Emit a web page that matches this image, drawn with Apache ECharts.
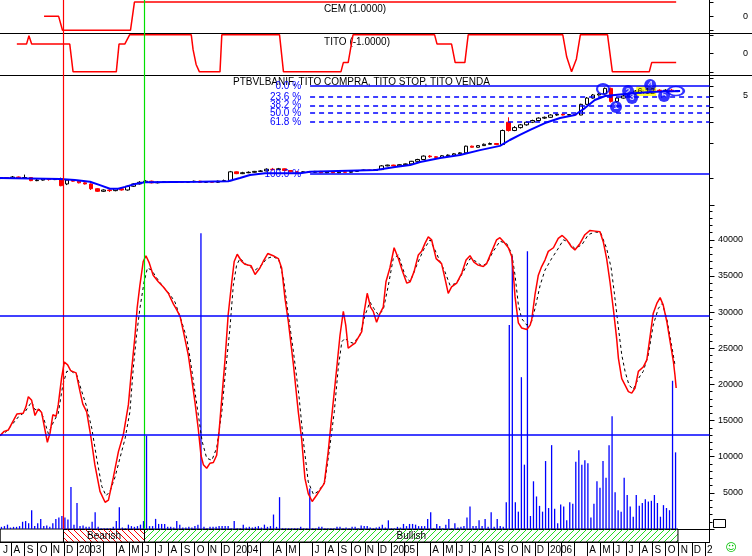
<!DOCTYPE html>
<html><head><meta charset="utf-8">
<script src="https://cdn.jsdelivr.net/npm/echarts@6/dist/echarts.min.js"></script>
<style>html,body{margin:0;padding:0;background:#fff}#c{width:752px;height:556px}</style>
</head><body><div id="c"></div>
<script>
// ---------- DATA (x = week index from 1 Jul 2002) ----------
const monthLabels = ['J','A','S','O','N','D','2003','','','A','M','J','J','A','S','O','N','D','2004','','','A','M','','J','A','S','O','N','D','2005','','','A','M','J','J','A','S','O','N','D','2006','','','A','M','J','J','A','S','O','N','D','2'];

const signalWeeks = [21.83, 48.63];
const signalColors = ['#ff0000', '#00e000'];

const cemWeek = [15.4, 20.2, 21.5, 44.0, 45.3, 224.5];
const cemVal  = [0, 0, -1, -1, 1, 1];

const titoWeek = [6.4,9.6,10.4,11.3,23.9,25.0,39.3,40.2,42.1,43.7,64.1,64.7,65.7,66.8,73.6,74.2,93.3,94.6,113.6,114.4,116.0,117.6,144.6,145.4,150.2,151.4,154.6,155.7,187.0,188.3,189.9,191.5,192.8,201.8,203.4,215.6,216.4,224.5];
const titoVal  = [0.5,0.5,0.95,0.5,0.5,-1,-1,0.5,0.5,1,1,0.2,-0.6,-1,-1,1,1,-1,-1,-0.5,-0.5,1,1,0.5,0.5,-0.5,-0.5,1,1,-0.2,-1,-0.3,1,1,-1,-1,-0.5,-0.5];

// bi-weekly candles [open, close, low, high]
const candleStartWeek = 1, candleStepWeeks = 2;
const candles = [
[1.00,1.02,0.99,1.03],[1.02,1.01,1.00,1.03],[1.01,1.03,1.00,1.05],[1.03,1.01,1.00,1.04],[1.01,1.02,1.00,1.08],
[1.02,0.96,0.95,1.03],[0.96,0.97,0.95,0.99],[0.97,0.99,0.96,1.00],[0.99,0.98,0.96,1.00],[0.98,1.00,0.97,1.01],
[1.00,0.87,0.86,1.02],[0.90,0.97,0.88,0.98],[0.97,0.95,0.94,0.98],[0.95,0.92,0.91,0.96],[0.92,0.90,0.89,0.93],
[0.90,0.82,0.80,0.91],[0.82,0.78,0.77,0.83],[0.78,0.80,0.77,0.81],[0.80,0.79,0.77,0.81],[0.79,0.82,0.78,0.83],
[0.82,0.80,0.79,0.83],[0.80,0.86,0.79,0.87],[0.86,0.90,0.85,0.91],[0.90,0.93,0.89,0.95],[0.93,0.95,0.92,0.97],
[0.95,0.92,0.91,0.96],[0.92,0.93,0.91,0.95],[0.93,0.94,0.92,0.95],[0.94,0.93,0.92,0.95],[0.93,0.94,0.92,0.95],
[0.94,0.93,0.92,0.95],[0.93,0.94,0.92,0.95],[0.94,0.95,0.93,0.96],[0.95,0.93,0.92,0.96],[0.93,0.94,0.92,0.95],
[0.94,0.93,0.92,0.95],[0.93,0.95,0.92,0.96],[0.95,0.96,0.94,0.98],[0.96,1.14,0.95,1.16],[1.14,1.10,1.09,1.15],
[1.10,1.12,1.09,1.14],[1.12,1.13,1.11,1.15],[1.13,1.15,1.12,1.16],[1.15,1.16,1.14,1.18],[1.16,1.20,1.15,1.22],
[1.20,1.19,1.17,1.23],[1.19,1.21,1.18,1.23],[1.21,1.17,1.16,1.22],[1.17,1.14,1.13,1.18],[1.14,1.13,1.12,1.15],
[1.13,1.14,1.12,1.15],[1.14,1.13,1.12,1.15],[1.13,1.15,1.12,1.16],[1.15,1.12,1.11,1.16],[1.12,1.14,1.11,1.15],
[1.14,1.12,1.11,1.15],[1.12,1.14,1.11,1.15],[1.14,1.13,1.12,1.15],[1.13,1.15,1.12,1.17],[1.15,1.17,1.14,1.18],
[1.17,1.18,1.16,1.19],[1.18,1.17,1.16,1.19],[1.17,1.19,1.16,1.20],[1.19,1.28,1.18,1.30],[1.28,1.30,1.27,1.31],
[1.30,1.28,1.27,1.31],[1.28,1.31,1.27,1.32],[1.31,1.33,1.30,1.34],[1.33,1.40,1.32,1.41],[1.40,1.45,1.39,1.47],
[1.45,1.55,1.44,1.57],[1.55,1.53,1.50,1.58],[1.53,1.51,1.49,1.55],[1.51,1.56,1.50,1.58],[1.56,1.58,1.55,1.60],
[1.58,1.62,1.57,1.64],[1.62,1.65,1.61,1.67],[1.65,1.88,1.64,1.90],[1.88,1.84,1.83,1.90],[1.84,1.90,1.83,1.92],
[1.90,1.95,1.89,1.98],[1.95,1.98,1.94,2.02],[1.98,1.94,1.92,2.00],[1.94,2.55,1.93,2.60],[3.00,2.55,2.50,3.30],
[2.55,2.70,2.52,2.78],[2.70,2.85,2.65,2.90],[2.85,3.00,2.80,3.05],[3.00,3.10,2.95,3.15],[3.10,3.25,3.05,3.30],
[3.25,3.30,3.20,3.35],[3.30,3.45,3.28,3.50],[3.45,3.50,3.40,3.55],[3.50,3.45,3.42,3.55],[3.45,3.48,3.42,3.52],
[3.48,3.45,3.40,3.50],[3.45,4.25,3.44,4.30],[4.25,4.80,4.20,4.90],[4.80,5.10,4.75,5.20],[5.10,5.20,5.05,5.30],
[5.20,5.80,5.15,5.90],[5.80,4.50,4.40,5.90],[4.50,4.80,4.40,4.90],[4.80,5.00,4.75,5.10],[5.00,5.20,4.95,5.30],
[5.20,5.50,5.15,5.60],[5.50,5.60,5.40,5.70],[5.60,5.70,5.50,5.80],[5.70,5.60,5.50,5.75],[5.60,5.55,5.45,5.70],
[5.55,5.60,5.45,5.70],[5.60,5.45,5.40,5.75],[5.45,5.55,5.40,5.60]
];

const stopWeek = [0.8,20.7,25.6,30.6,33.9,37.2,39.9,42.2,45.5,48.8,67.0,76.3,80.2,83.5,88.5,100.1,103.4,125.2,131.5,136.5,139.8,146.4,153.0,159.6,166.2,169.5,172.8,176.2,181.1,186.1,191.0,194.3,197.6,201.0,204.3,209.2,215.9,225.8];
const stopVal  = [1.01,0.99,0.97,0.94,0.88,0.82,0.82,0.85,0.90,0.93,0.94,0.95,1.01,1.07,1.11,1.11,1.14,1.18,1.25,1.30,1.38,1.49,1.58,1.74,1.89,2.12,2.34,2.58,2.95,3.26,3.45,3.95,4.62,5.0,5.1,5.25,5.4,5.5];

const fibLabels = ['0.0 %','23.6 %','38.2 %','50.0 %','61.8 %','100.0 %'];
const fibPrices = [6.08, 4.90, 4.17, 3.58, 3.00, 1.09];
const fibStartWeek = 103.4;

const sigWeek  = [200.3, 204.6, 208.6, 209.9, 215.9, 220.5, 224.4];
const sigPrice = [5.73, 4.04, 5.51, 4.81, 6.2, 5.0, 5.51];
const sigLabel = ['', '1', '2', '3', '4', '5', ''];
const tagWeek = 214.6, tagPrice = 5.51, tagText = '6.12';

// weekly volume, bar i drawn at week i + 0.3
const volOffset = 0.3;
const volume = [
300,300,400,600,200,300,300,400,1000,1100,800,2600,400,800,1400,400,500,300,800,1400,
1600,1800,1600,1300,5800,600,3600,400,500,300,300,1000,2300,300,100,100,100,100,300,1100,
3000,200,100,600,400,300,400,600,1100,12900,400,400,1400,700,700,700,300,300,200,1100,
600,200,200,300,200,400,600,40900,300,100,300,300,300,400,400,400,400,100,1100,100,
100,600,200,300,200,300,400,200,600,300,400,2000,300,4400,100,100,100,100,100,100,
300,100,100,5600,100,100,300,300,100,100,100,100,300,300,100,200,100,300,300,100,
500,400,400,200,100,200,300,600,200,1200,100,100,300,200,700,400,700,700,600,400,
400,400,1400,2300,100,700,400,100,600,1400,100,800,200,300,400,1600,3100,400,400,1200,
400,1400,300,2300,300,1400,400,300,3700,28200,37700,3700,2400,21000,8900,38400,1800,6600,4500,3200,
2400,9400,2900,11600,2800,800,3400,3100,1200,3700,3500,9300,10900,8900,9500,9100,1600,3500,6600,5700,
9400,7100,11600,15600,5100,2600,2400,7100,4700,3100,1700,4700,3200,3600,4100,3800,3900,4700,3600,1700,
3300,2900,2600,20500,10600
];

const oscWeek = [0.8,2.2,3.6,6.4,8.5,9.4,10.2,11.3,12.4,13.5,14.6,15.7,16.5,17.4,18.3,19.4,20.1,21.2,22.1,23.2,
24.2,26.0,27.3,28.2,29.5,30.8,32.2,33.9,35.6,36.7,38.3,40.0,41.6,43.3,44.1,45.5,46.2,47.1,48.2,49.1,
50.2,51.5,53.2,54.8,56.5,58.2,59.3,60.4,61.5,63.1,64.2,65.3,66.4,67.3,68.1,69.2,70.3,71.4,72.5,73.3,
74.2,75.3,76.3,77.5,78.3,79.3,80.8,81.9,83.9,85.2,86.8,87.9,89.4,91.2,92.9,94.0,95.1,96.2,97.9,99.5,
100.6,101.7,102.8,104.1,105.6,106.7,108.1,109.4,110.5,112.2,113.3,114.4,115.2,116.0,117.2,118.3,118.8,120.5,121.2,122.3,
123.4,124.3,125.4,126.5,127.6,128.5,129.8,131.2,132.6,134.0,135.4,136.5,137.8,139.2,140.3,141.4,142.5,143.6,145.1,146.9,
148.0,149.1,150.2,151.9,153.6,155.0,156.3,157.6,159.0,160.7,161.8,163.5,165.1,166.2,167.5,169.0,170.1,170.6,171.2,172.3,
173.4,175.1,176.2,176.7,177.8,178.9,180.0,181.1,182.2,183.9,185.5,186.8,188.3,189.9,191.0,192.7,194.3,196.0,197.7,199.3,
200.4,201.5,202.6,203.7,204.8,205.4,206.5,207.6,208.7,209.8,210.9,212.0,213.6,214.8,215.8,216.9,218.1,219.2,220.2,221.4,
222.5,223.6,224.1,224.5];
const oscRed = [12900,13500,13700,15900,16000,16900,18300,17800,15700,16600,16100,13700,12000,13300,15800,15600,17200,20900,23100,22700,
21900,21600,19000,17300,16200,13000,8900,5200,3700,4000,7100,10700,13000,17200,20900,26800,30600,33700,37000,37800,
36800,35100,34200,33500,32600,31100,30300,29400,27300,24100,20900,17600,13900,10200,8900,8400,9100,9200,10200,13500,
18100,23600,29600,34200,37000,38000,37000,36600,36400,35200,36100,37000,38100,37800,37400,36100,31900,28700,22700,16200,
12500,7000,4900,3800,4700,5400,6300,10700,15300,22200,26800,30100,28200,25000,25400,25700,26100,27300,29800,32600,
30700,30100,28600,29800,30700,34200,36100,38900,37400,35600,34000,34200,35600,37900,38400,39500,40400,40000,37400,36700,
34700,32600,33500,34000,35400,37200,37800,36900,36500,36300,36700,38400,40000,40300,39700,38900,37700,35600,32100,28500,
27800,27600,28200,28900,32400,35100,36300,37200,38400,38900,40200,40600,40000,39000,38600,39500,40700,41300,41200,41100,
39700,37400,34200,30500,26400,23600,20800,19900,19000,18800,19500,21800,22400,23400,26400,29800,31200,32000,31000,28700,
25900,23100,21300,19500];

const blackWeek = [0.8,3.0,6.9,9.1,11.3,12.4,13.8,15.2,16.8,18.5,20.1,21.6,22.9,24.5,26.2,27.9,29.5,31.2,32.8,34.5,
35.9,37.2,38.9,40.5,42.2,43.8,44.9,46.0,47.1,48.5,49.6,51.0,52.7,54.8,57.1,58.7,60.9,62.6,63.7,65.3,
66.6,67.7,69.2,70.9,72.5,74.2,75.3,76.9,78.0,79.1,80.2,82.4,85.2,87.4,89.0,91.2,93.1,94.6,96.2,97.9,
99.7,101.2,102.8,104.5,106.1,108.3,110.0,111.4,112.7,113.9,115.0,116.1,117.7,119.9,121.6,123.2,124.5,126.0,127.6,129.3,
130.9,132.6,134.8,136.5,138.7,140.9,143.1,144.7,146.4,148.0,149.7,151.9,154.1,156.3,158.3,160.2,161.8,164.0,166.2,168.4,
170.1,171.2,172.3,173.4,175.1,176.7,177.8,179.5,181.1,183.3,185.5,187.2,188.8,191.0,193.3,195.4,197.7,199.6,201.5,203.0,
204.0,205.4,206.5,207.6,208.9,210.3,212.0,213.6,215.3,216.9,218.6,219.9,221.4,223.0,224.1];
const oscBlack = [12900,13500,15500,16200,17600,16500,16600,15400,13200,14800,16000,19900,21800,21800,21300,19000,16900,13900,9800,5900,
4600,5200,7200,9800,12500,16200,22200,26800,30500,34200,36100,35800,34700,33500,32400,31400,28700,26400,23600,19000,
15300,12100,9800,9500,11200,16200,21300,27800,33700,36500,37400,36600,35800,36500,37400,37700,37200,34700,29600,24500,
18500,12100,6500,4800,5200,6500,11600,16200,22200,25900,26400,25900,25700,26800,29600,31400,30500,29600,30300,33700,
37400,37900,35100,34200,36500,38600,40000,38600,37000,35600,33700,34000,35600,37400,37000,36400,36700,38400,39800,39500,
38100,35100,31000,29100,28200,28700,30500,33700,35800,37400,38800,40000,39700,38800,39300,40700,41100,40900,38800,36100,
32800,27800,24100,21800,19900,19300,20800,21800,24100,28200,30500,31200,29100,25400,22700];

const oscLevels = [29500, 13000];

const regimeStart = [0.9, 21.83, 48.63];
const regimeEnd   = [21.83, 48.63, 225.1];
const regimeName  = ['', 'Bearish', 'Bullish'];

// ---------- LAYOUT ----------
const FONT = "'Liberation Sans', Arial, sans-serif";
const W = 752, PLOT_RIGHT = 709.5;
const PX_PER_WEEK = 3.023, PX_PER_MONTH = PX_PER_WEEK * 52 / 12;
const X0 = 2.5;                       // week/month 0 sits 2.5px left of the canvas edge
const weekMin = X0 / PX_PER_WEEK;
const narrowMax = weekMin + PLOT_RIGHT / PX_PER_WEEK;
const wideMax = weekMin + W / PX_PER_WEEK;
const monthMin = X0 / PX_PER_MONTH;
const monthMax = monthMin + PLOT_RIGHT / PX_PER_MONTH;
const monthTicks = monthLabels.map((_, i) => i).filter(i => i > 0);
const monthLabelPos = [monthMin].concat(monthTicks);
const AX_OFF = -(W - PLOT_RIGHT);

function hatch(color, dir) {
  const s = 6, c = document.createElement('canvas'); c.width = s; c.height = s;
  const g = c.getContext('2d'); g.strokeStyle = color; g.lineWidth = 1;
  g.beginPath();
  for (let k = -1; k <= 1; k++) {
    if (dir > 0) { g.moveTo(k * s, s); g.lineTo(k * s + s, 0); }
    else { g.moveTo(k * s, 0); g.lineTo(k * s + s, s); }
  }
  g.stroke(); return c;
}
const regimeFill = ['#ffffff', {image: hatch('#ff0000', -1), repeat: 'repeat'}, {image: hatch('#22dd22', 1), repeat: 'repeat'}];

function xAx(gi, max, line) {
  return {type: 'value', gridIndex: gi, min: weekMin, max: max, show: true,
    axisLine: {show: line, onZero: false, lineStyle: {color: '#000', width: 1}},
    axisTick: {show: false}, axisLabel: {show: false}, splitLine: {show: false}};
}
function yAx(gi, o) {
  return Object.assign({type: 'value', gridIndex: gi, position: 'right', offset: 0,
    axisLine: {show: true, onZero: false, lineStyle: {color: '#000', width: 1}},
    axisTick: {show: true, length: 4, lineStyle: {color: '#000'}},
    axisLabel: {show: true, color: '#000', fontSize: 9, fontFamily: FONT, align: 'right', margin: 38.5},
    splitLine: {show: false}}, o);
}
function signalLines(extra) {
  return {silent: true, symbol: ['none', 'none'], animation: false, label: {show: false}, z: 5,
    data: signalWeeks.map((w, i) => ({xAxis: w, lineStyle: {color: signalColors[i], width: 1.2, type: 'solid', opacity: 1}})).concat(extra || [])};
}

const fibMark = fibLabels.map((lab, k) => [
  {coord: [fibStartWeek, fibPrices[k]],
   lineStyle: {color: '#0000ff', width: 1.5, type: (k === 0 || k === fibLabels.length - 1) ? 'solid' : [5, 4]},
   label: {show: true, position: 'start', formatter: lab, color: '#0000ff', fontSize: 10, fontFamily: FONT, distance: 9}},
  {coord: [narrowMax, fibPrices[k]]}
]);

const option = {
  animation: false,
  textStyle: {fontFamily: FONT},
  grid: [
    {left: 0, right: 0, top: 0, height: 33},
    {left: 0, right: 0, top: 33, height: 42},
    {left: 0, right: W - PLOT_RIGHT, top: 75, height: 130},
    {left: 0, right: W - PLOT_RIGHT, top: 205, height: 324},
    {left: 0, right: W - PLOT_RIGHT, top: 529, height: 13},
    {left: 0, right: W - PLOT_RIGHT, top: 542, height: 14}
  ],
  xAxis: [
    xAx(0, wideMax, true), xAx(1, wideMax, true), xAx(2, narrowMax, false),
    xAx(3, narrowMax, true), xAx(4, narrowMax, true),
    {type: 'value', gridIndex: 5, min: monthMin, max: monthMax, position: 'top',
     axisLine: {show: false, onZero: false},
     axisTick: {show: true, inside: true, length: 14, customValues: monthTicks, lineStyle: {color: '#000'}},
     axisLabel: {show: true, inside: true, customValues: monthLabelPos, align: 'left', verticalAlign: 'top', margin: 3, padding: [0, 0, 0, 2],
       fontSize: 10, color: '#000', fontFamily: FONT,
       formatter: v => monthLabels[Math.round(v)] || ''},
     splitLine: {show: false}}
  ],
  yAxis: [
    yAx(0, {offset: AX_OFF, min: -1.2, max: 1.15,
      axisTick: {show: true, length: 4, customValues: [-1, 0, 1], lineStyle: {color: '#000'}},
      axisLabel: {show: true, customValues: [0], color: '#000', fontSize: 9, fontFamily: FONT, align: 'right', margin: 38.5}}),
    yAx(1, {offset: AX_OFF, min: -1.17, max: 1.1,
      axisTick: {show: true, length: 4, customValues: [-1, 0, 1], lineStyle: {color: '#000'}},
      axisLabel: {show: true, customValues: [0], color: '#000', fontSize: 9, fontFamily: FONT, align: 'right', margin: 38.5}}),
    yAx(2, {type: 'log', logBase: 10, min: 0.597, max: 7.53,
      axisTick: {show: true, length: 4, customValues: [1, 2, 3, 4, 5, 6, 7], lineStyle: {color: '#000'}},
      axisLabel: {show: true, customValues: [5], color: '#000', fontSize: 9, fontFamily: FONT, align: 'right', margin: 38.5}}),
    yAx(3, {min: 0, max: 44813, interval: 5000,
      axisTick: {show: true, length: 5, lineStyle: {color: '#000'}},
      minorTick: {show: true, splitNumber: 5, length: 3, lineStyle: {color: '#000'}},
      axisLabel: {show: true, color: '#000', fontSize: 9, fontFamily: FONT, align: 'right', margin: 33.5,
        formatter: v => (v > 0 && v % 5000 === 0) ? String(v) : ''}}),
    yAx(4, {min: 0, max: 1, axisTick: {show: false}, axisLabel: {show: false}}),
    {type: 'value', gridIndex: 5, min: 0, max: 1, show: false}
  ],
  graphic: [
    {type: 'text', x: 355, y: 9, style: {text: 'CEM (1.0000)', font: '10px ' + FONT, fill: '#000', align: 'center', verticalAlign: 'middle', textAlign: 'center', textVerticalAlign: 'middle'}},
    {type: 'text', x: 357, y: 42, style: {text: 'TITO (-1.0000)', font: '10px ' + FONT, fill: '#000', align: 'center', verticalAlign: 'middle', textAlign: 'center', textVerticalAlign: 'middle'}},
    {type: 'text', x: 233, y: 82, style: {text: 'PTBVLBANIF, TITO COMPRA, TITO STOP, TITO VENDA', font: '10px ' + FONT, fill: '#000', align: 'left', verticalAlign: 'middle', textAlign: 'left', textVerticalAlign: 'middle'}},
    {type: 'rect', shape: {x: 713.5, y: 519.5, width: 12, height: 8}, style: {fill: '#fff', stroke: '#000', lineWidth: 1}},
    {type: 'text', x: 731, y: 548, style: {text: '\u263A', font: '11px DejaVu Sans', fill: '#00c000', align: 'center', verticalAlign: 'middle', textAlign: 'center', textVerticalAlign: 'middle'}}
  ],
  series: [
    {type: 'line', xAxisIndex: 0, yAxisIndex: 0, symbol: 'none', data: cemWeek.map((w, i) => [w, cemVal[i]]),
     lineStyle: {color: '#ff0000', width: 1.5}, markLine: signalLines()},
    {type: 'line', xAxisIndex: 1, yAxisIndex: 1, symbol: 'none', data: titoWeek.map((w, i) => [w, titoVal[i]]),
     lineStyle: {color: '#ff0000', width: 1.5}, markLine: signalLines()},
    {type: 'candlestick', xAxisIndex: 2, yAxisIndex: 2, barWidth: 4,
     data: candles.map((c, j) => [candleStartWeek + j * candleStepWeeks, c[0], c[1], c[2], c[3]]),
     encode: {x: 0, y: [1, 2, 3, 4]},
     itemStyle: {color: '#ffffff', color0: '#ff0000', borderColor: '#000000', borderColor0: '#ff0000', borderWidth: 1}},
    {type: 'line', xAxisIndex: 2, yAxisIndex: 2, symbol: 'none', data: stopWeek.map((w, i) => [w, stopVal[i]]),
     lineStyle: {color: '#0000ff', width: 2}, markLine: signalLines(fibMark)},
    {type: 'scatter', xAxisIndex: 2, yAxisIndex: 2, symbol: 'rect', symbolSize: [20, 10], data: [[tagWeek, tagPrice]],
     itemStyle: {color: '#ffff00'}, label: {show: true, position: 'inside', formatter: tagText, color: '#000', fontSize: 9}},
    {type: 'scatter', xAxisIndex: 2, yAxisIndex: 2, symbolSize: 12,
     data: sigWeek.map((w, i) => ({
       value: [w, sigPrice[i]],
       symbolSize: sigLabel[i] ? 12 : (i === sigWeek.length - 1 ? [16, 9] : [12, 10]),
       itemStyle: sigLabel[i] ? {color: '#0000ff'} : {color: 'rgba(0,0,0,0)', borderColor: '#0000ff', borderWidth: 2},
       label: {show: !!sigLabel[i], position: 'inside', formatter: sigLabel[i], color: '#ffffff', fontWeight: 'bold', fontSize: 9}
     }))},
    {type: 'bar', xAxisIndex: 3, yAxisIndex: 3, barWidth: 1.3, data: volume.map((v, i) => [i + volOffset, v]),
     itemStyle: {color: '#0000ff'}},
    {type: 'line', xAxisIndex: 3, yAxisIndex: 3, symbol: 'none', data: blackWeek.map((w, i) => [w, oscBlack[i]]),
     lineStyle: {color: '#000000', width: 1, type: [3, 3]}},
    {type: 'line', xAxisIndex: 3, yAxisIndex: 3, symbol: 'none', data: oscWeek.map((w, i) => [w, oscRed[i]]),
     lineStyle: {color: '#ff0000', width: 1.5},
     markLine: signalLines(oscLevels.map(v => ({yAxis: v, lineStyle: {color: '#0000ff', width: 1.5, type: 'solid'}})))},
    {type: 'custom', xAxisIndex: 4, yAxisIndex: 4,
     data: regimeStart.map((s, i) => [s, regimeEnd[i], i]),
     encode: {x: [0, 1]},
     renderItem: (params, api) => {
       const k = api.value(2);
       const p0 = api.coord([api.value(0), 1]), p1 = api.coord([api.value(1), 0]);
       return {type: 'group', children: [
         {type: 'rect', shape: {x: p0[0], y: p0[1], width: p1[0] - p0[0], height: p1[1] - p0[1]},
          style: {fill: regimeFill[k], stroke: '#000', lineWidth: 1}},
         {type: 'text', style: {text: regimeName[k], x: (p0[0] + p1[0]) / 2, y: (p0[1] + p1[1]) / 2 + 1,
           align: 'center', verticalAlign: 'middle', fill: '#000', font: '10px ' + FONT}}
       ]};
     }}
  ]
};
const chart = echarts.init(document.getElementById('c'), null, {renderer: 'canvas'});
chart.setOption(option);
</script></body></html>
